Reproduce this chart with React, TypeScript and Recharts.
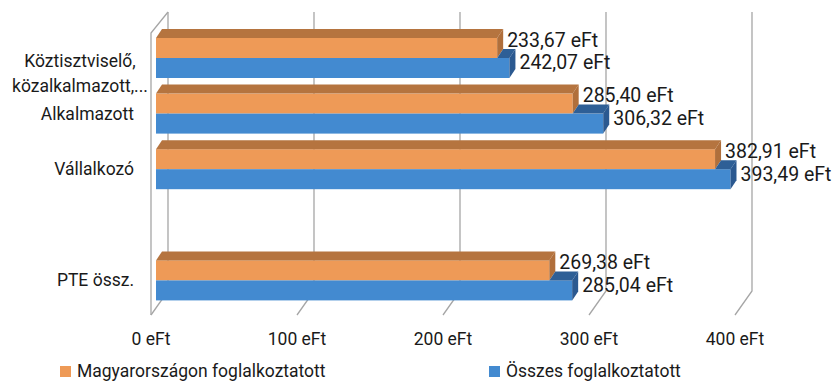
import { BarChart, Bar, XAxis, YAxis, CartesianGrid, Legend, LabelList } from 'recharts';

const categories = ['Köztisztviselő, közalkalmazott,...', 'Alkalmazott', 'Vállalkozó', '', 'PTE össz.'];
const magyarorszagon = [233.67, 285.4, 382.91, null, 269.38];
const osszes = [242.07, 306.32, 393.49, null, 285.04];
const xTicks = [0, 100, 200, 300, 400];

const data = categories.map((name, i) => ({
  name,
  magyar: magyarorszagon[i],
  osszes: osszes[i],
}));

const FONT = 'Roboto, "Liberation Sans", sans-serif';
const TEXT = '#1a1a1a';
const DX = 6; // depth of a bar, to the right
const DY = 9; // depth of a bar, upwards

const ORANGE = { front: '#EE9A57', top: '#B5743F', side: '#B06F3B' };
const BLUE = { front: '#438AD0', top: '#2E5F96', side: '#2B5990' };

const fmt = (v: number) => v.toFixed(2).replace('.', ',') + ' eFt';

// orange bar: front, top face, side face
const OrangeShape = (props: any) => {
  const { x, y, width, height } = props;
  if (!width) return null;
  return (
    <g>
      <rect x={x} y={y} width={width} height={height} fill={ORANGE.front} />
      <polygon
        points={`${x},${y} ${x + DX},${y - DY} ${x + width + DX},${y - DY} ${x + width},${y}`}
        fill={ORANGE.top}
      />
      <polygon
        points={`${x + width},${y} ${x + width + DX},${y - DY} ${x + width + DX},${y + height - DY} ${x + width},${y + height}`}
        fill={ORANGE.side}
      />
    </g>
  );
};

// blue bar: only the top part that sticks out past the orange one is visible
const BlueShape = (props: any) => {
  const { x, y, width, height, payload } = props;
  if (!width) return null;
  const ratio = payload.magyar != null ? payload.magyar / payload.osszes : 0;
  const oe = x + width * ratio;
  return (
    <g>
      <rect x={x} y={y} width={width} height={height} fill={BLUE.front} />
      <polygon
        points={`${oe},${y} ${oe + DX},${y - DY} ${x + width + DX},${y - DY} ${x + width},${y}`}
        fill={BLUE.top}
      />
      <polygon
        points={`${x + width},${y} ${x + width + DX},${y - DY} ${x + width + DX},${y + height - DY} ${x + width},${y + height}`}
        fill={BLUE.side}
      />
    </g>
  );
};

const makeLabel = (shift: number) => (props: any) => {
  const { x, y, width, height, value } = props;
  if (value == null) return null;
  return (
    <text
      x={x + width + 10}
      y={y + height / 2 + shift}
      dy="0.35em"
      textAnchor="start"
      fontFamily={FONT}
      fontSize={19.5}
      fill={TEXT}
    >
      {fmt(value)}
    </text>
  );
};

// 3D-looking grid: back wall line, then a slanted floor line to the front
const GridLine = (props: any) => {
  const { x1, y1, y2, index } = props;
  const x = x1;
  return (
    <g key={`g-${index}`}>
      <path
        d={`M${x + 12},${y1 - 18} L${x + 12},${y2 - 17} L${x - 5},${y2 + 7}`}
        fill="none"
        stroke="#A6A6A6"
        strokeWidth={1.3}
      />
      {index === 0 && (
        <path
          d={`M${x + 12},${y1 - 18} L${x - 5},${y1 + 3} L${x - 5},${y2 + 7}`}
          fill="none"
          stroke="#A6A6A6"
          strokeWidth={1.3}
        />
      )}
    </g>
  );
};

const CategoryTick = (props: any) => {
  const { x, y, payload } = props;
  const label: string = payload.value;
  if (!label) return null;
  if (label.includes(', ')) {
    const lines = label.split(' ');
    return (
      <g>
        <text x={x - 54} y={y + 3} dy="0.35em" textAnchor="middle" fontFamily={FONT} fontSize={17.5} fill={TEXT}>
          {lines[0]}
        </text>
        <text x={x - 54} y={y + 28} dy="0.35em" textAnchor="middle" fontFamily={FONT} fontSize={17.5} fill={TEXT}>
          {lines[1]}
        </text>
      </g>
    );
  }
  return (
    <text x={x} y={y} dy="0.35em" textAnchor="end" fontFamily={FONT} fontSize={17.5} fill={TEXT}>
      {label}
    </text>
  );
};

const ValueTick = (props: any) => {
  const { x, y, payload } = props;
  return (
    <text x={x - 5} y={y} dy="0.35em" textAnchor="middle" fontFamily={FONT} fontSize={17.5} fill={TEXT}>
      {`${payload.value} eFt`}
    </text>
  );
};

const LegendContent = (props: any) => {
  const items = props.payload || [];
  const lefts = [60, 489];
  return (
    <div style={{ position: 'relative', width: 834, height: 24 }}>
      {items.map((it: any, i: number) => (
        <div
          key={it.value}
          style={{
            position: 'absolute',
            left: lefts[i],
            top: 0,
            height: 24,
            display: 'flex',
            alignItems: 'center',
            fontFamily: FONT,
            fontSize: 17.5,
            color: TEXT,
            whiteSpace: 'nowrap',
          }}
        >
          <span style={{ display: 'inline-block', width: 11, height: 11, background: it.color, marginRight: 6 }} />
          {it.value}
        </div>
      ))}
    </div>
  );
};

export default function App() {
  return (
    <div style={{ position: 'absolute', left: 0, top: 0, width: 834, height: 383, background: '#fff' }}>
      <BarChart
        width={834}
        height={383}
        data={data}
        layout="vertical"
        margin={{ top: 30, right: 94, bottom: 35, left: 0 }}
        barSize={20}
        barGap={0}
      >
        <CartesianGrid horizontal={false} vertical={GridLine} />
        <XAxis
          type="number"
          domain={[0, 400]}
          ticks={xTicks}
          axisLine={false}
          tickLine={false}
          tickMargin={25}
          height={40}
          tick={<ValueTick />}
        />
        <YAxis
          type="category"
          dataKey="name"
          width={156}
          axisLine={false}
          tickLine={false}
          tickMargin={16}
          interval={0}
          tick={<CategoryTick />}
        />
        <Legend
          verticalAlign="middle"
          content={<LegendContent />}
          wrapperStyle={{ top: 359, left: 0, width: 834 }}
        />
        <Bar
          dataKey="magyar"
          name="Magyarországon foglalkoztatott"
          fill={ORANGE.front}
          shape={<OrangeShape />}
          isAnimationActive={false}
        >
          <LabelList dataKey="magyar" content={makeLabel(-8)} />
        </Bar>
        <Bar
          dataKey="osszes"
          name="Összes foglalkoztatott"
          fill={BLUE.front}
          shape={<BlueShape />}
          isAnimationActive={false}
        >
          <LabelList dataKey="osszes" content={makeLabel(-5.5)} />
        </Bar>
      </BarChart>
    </div>
  );
}
